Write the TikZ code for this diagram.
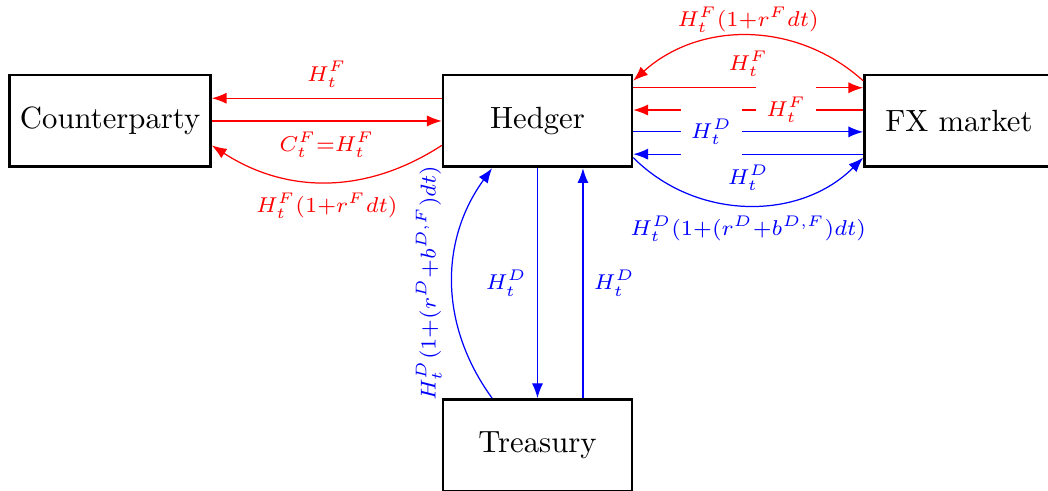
\documentclass[tikz,border=0pt]{standalone}
\usepackage{amsmath}
\usetikzlibrary{arrows.meta, positioning, calc}

\begin{document}
\begin{tikzpicture}[node distance=2.63cm,
    box/.style={draw, line width=0.9pt, minimum width=2.16cm, minimum height=1.05cm},
    flowF/.style={red, -{Latex}},
    flowD/.style={blue, -{Latex}},
    gap/.style={fill=white, minimum width=0.67cm, minimum height=0.6cm}]
    \useasboundingbox (-6.15,-4.233) rectangle (5.841,1.384);
    % --- Boxes ---
    \node[box] (hedger) at (0,0) {Hedger};
    \node[box, left=of hedger] (cp) {Counterparty};
    \node[box, right=of hedger] (fx) {FX market};
    \node[box, below=of hedger] (treasury) {Treasury};

    % --- Counterparty <-> Hedger ---
    \draw[flowF] ([yshift=0.26cm]hedger.west) -- node[above] {$\scriptstyle H_t^F$} ([yshift=0.26cm]cp.east);
    \draw[flowF] (cp.east) -- node[below] {$\scriptstyle C_t^F=H_t^F$} (hedger.west);
    \draw[flowF] ([yshift=-0.28cm]hedger.west) to[bend left=33] node[below] {$\scriptstyle H_t^F(1+r^F dt)$} ([yshift=-0.28cm]cp.east);

    % --- Hedger <-> FX market ---
    \draw[flowF] ([yshift=0.46cm]fx.west) to[bend right=42] node[above, yshift=-2.5pt] {$\scriptstyle H_t^F(1+r^F dt)$} ([yshift=0.46cm]hedger.east);
    \draw[flowF] ([yshift=0.38cm]hedger.east) -- node[above] {$\scriptstyle H_t^F$} ([yshift=0.38cm]fx.west);
    \draw[flowD] ([yshift=-0.38cm]fx.west) -- node[below] {$\scriptstyle H_t^D$} ([yshift=-0.38cm]hedger.east);
    \draw[flowF] ([yshift=0.125cm]fx.west) -- node[gap, pos=0.335] {$\scriptstyle H_t^F$} ([yshift=0.125cm]hedger.east);
    \draw[flowD] ([yshift=-0.125cm]hedger.east) -- node[gap, pos=0.34] {$\scriptstyle H_t^D$} ([yshift=-0.125cm]fx.west);
    \draw[flowD] ([yshift=-0.42cm]hedger.east) to[bend right=45] node[below] {$\scriptstyle H_t^D(1+(r^D+b^{D,F})dt)$} ([yshift=-0.42cm]fx.west);

    % --- Hedger <-> Treasury ---
    \draw[flowD] (hedger.south) -- node[left] {$\scriptstyle H_t^D$} (treasury.north);
    \draw[flowD] ([xshift=0.52cm]treasury.north) -- node[right] {$\scriptstyle H_t^D$} ([xshift=0.52cm]hedger.south);
    \draw[flowD] ([xshift=-0.52cm]treasury.north) to[bend left=36] node[sloped, above] {$\scriptstyle H_t^D(1+(r^D+b^{D,F})dt)$} ([xshift=-0.52cm]hedger.south);
\end{tikzpicture}
\end{document}
